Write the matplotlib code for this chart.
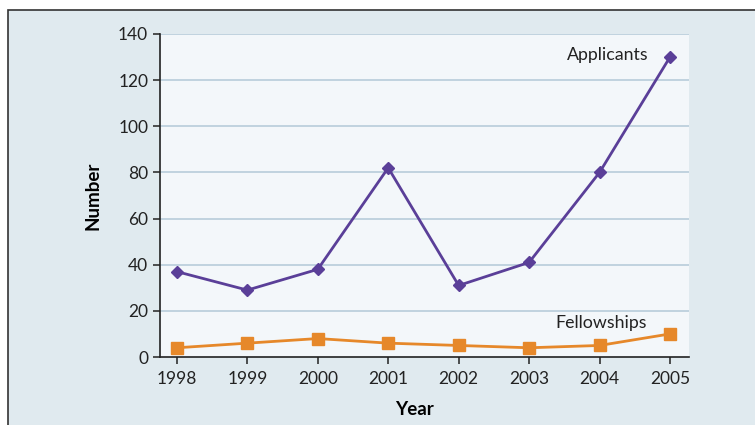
import matplotlib.pyplot as plt
from matplotlib.patches import Rectangle

years = [1998, 1999, 2000, 2001, 2002, 2003, 2004, 2005]
applicants = [37, 29, 38, 82, 31, 41, 80, 130]
fellowships = [4, 6, 8, 6, 5, 4, 5, 10]
y_ticks = [0, 20, 40, 60, 80, 100, 120, 140]

plt.rcParams["font.family"] = ["Lato", "DejaVu Sans"]

fig = plt.figure(figsize=(7.55, 4.25), dpi=100)
fig.patch.set_facecolor("white")

# outer panel with dark border (right/bottom run off the image)
panel = Rectangle((8 / 755, -0.1), 1.2, 1.1 - 10 / 425 + 0.001,
                  transform=fig.transFigure, facecolor="#e0eaef",
                  edgecolor="#333333", linewidth=1.2, zorder=-10)
fig.add_artist(panel)

ax = fig.add_axes([160 / 755, 68 / 425, 529 / 755, 323 / 425])
ax.set_zorder(1)
ax.set_facecolor("#f3f7fa")

for v in y_ticks[1:]:
    ax.axhline(v, color="#b3c9d8", linewidth=1.1, zorder=1)

ax.plot(years, applicants, color="#5a3f98", linewidth=2, marker="D",
        markersize=6, zorder=3)
ax.plot(years, fellowships, color="#e6882a", linewidth=2, marker="s",
        markersize=8, zorder=3)

ax.text(2004.7, 131, "Applicants", ha="right", va="center", fontsize=12.8,
        color="#222222")
ax.text(2004.67, 14.7, "Fellowships", ha="right", va="center", fontsize=12.8,
        color="#222222")

ax.set_xlim(1997.76, 2005.27)
ax.set_ylim(0, 140)
ax.set_xticks(years)
ax.set_yticks(y_ticks)
ax.tick_params(labelsize=12.5, colors="#222222", length=5, width=1.1)
ax.tick_params(axis="x", pad=5)

for s in ["top", "right"]:
    ax.spines[s].set_visible(False)
for s in ["left", "bottom"]:
    ax.spines[s].set_color("#222222")
    ax.spines[s].set_linewidth(1.2)

ax.set_ylabel("Number", fontsize=13.5, fontweight="bold", labelpad=12)
ax.set_xlabel("Year", fontsize=13.5, fontweight="bold")
ax.xaxis.set_label_coords((414 - 160) / 529, -44 / 323)

fig.savefig("out.png", dpi=100)
